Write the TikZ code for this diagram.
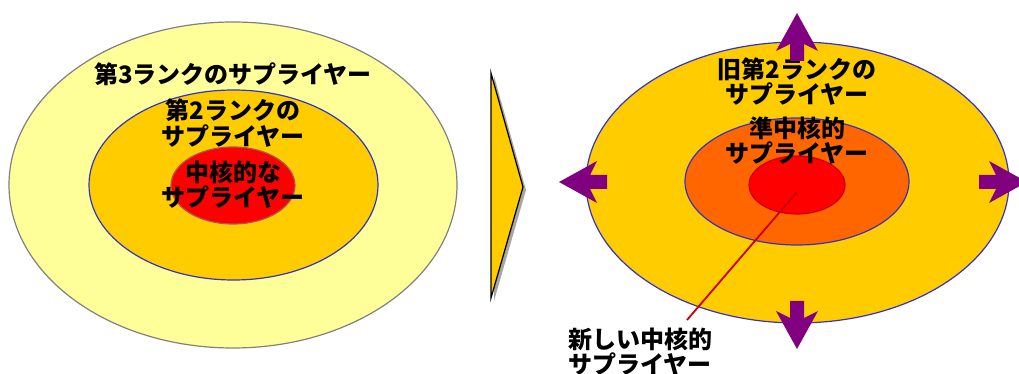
\documentclass[tikz,border=0pt]{standalone}
\usepackage{fontspec}
\usepackage{xcolor}
\usepackage{tikz}
\usetikzlibrary{shapes.geometric}
\newfontfamily\jpfont{Noto Sans CJK JP}
\definecolor{paleyel}{HTML}{FFFF99}
\definecolor{goldyel}{HTML}{FFCC00}
\definecolor{coreorg}{HTML}{FF6600}
\definecolor{corered}{HTML}{FF0000}
\definecolor{ringblue}{HTML}{3333CC}
\definecolor{pushpurple}{HTML}{800080}

\begin{document}
\begin{tikzpicture}[x=0.5pt, y=-0.5pt,
  ring/.style={ellipse, inner sep=0pt, draw=#1, line width=0.6pt},
  ring/.default=ringblue,
  lbl/.style={font=\jpfont\bfseries\fontsize{12}{#1}\selectfont, align=center, inner sep=0pt},
  lbl/.default=13,
  push/.style={fill=pushpurple},
  leader/.style={draw=red!80!black, line width=0.9pt}]
\useasboundingbox (0,0) rectangle (1019,374);
% before: three ranks
\node[ring=gray, fill=paleyel, minimum width=224pt, minimum height=163pt] (rank3) at (233,185) {};
\node[ring, fill=goldyel, minimum width=144.5pt, minimum height=95pt] (rank2) at (233.5,185) {};
\node[ring=red!30!gray, fill=corered, minimum width=62pt, minimum height=38.5pt] (core) at (233,185.5) {};
\node[lbl] (rank3txt) at (233,74) {第3ランクのサプライヤー};
\node[lbl] (rank2txt) at (233,123) {第2ランクの\\サプライヤー};
\node[lbl=12.5] (coretxt) at (233,184.5) {中核的な\\サプライヤー};
% chevron
\fill[gray!70] (494,76) -- (526,190) -- (494,301) -- cycle;
\draw[fill=goldyel, line width=0.6pt] (491,73) -- (523,187) -- (491,298) -- cycle;
% after: widened
\node[ring, fill=goldyel, minimum width=211.5pt, minimum height=140.5pt] (oldrank2) at (797.5,182.5) {};
\node[ring, fill=coreorg, minimum width=112pt, minimum height=63.5pt] (semicore) at (797,181.5) {};
\node[ring=red!80!black, fill=corered, minimum width=48pt, minimum height=29pt] (newcore) at (797,185) {};
\node[lbl=10.5] (oldrank2txt) at (797,81.5) {旧第2ランクの\\サプライヤー};
\node[lbl=10] (semicoretxt) at (797,141) {準中核的\\サプライヤー};
\node[lbl=12.5] (newcoretxt) at (640,351.5) {新しい中核的\\サプライヤー};
\coordinate (leadtop) at (797,192);
\coordinate (leadend) at (687,320);
\draw[leader] (leadtop) -- (leadend);
% outward arrows
\fill[push, shift={(797,13)}] (0,0) -- (21,38) -- (7,31) -- (7,48) -- (-7,48) -- (-7,31) -- (-21,38) -- cycle;
\fill[push, shift={(797,349)}, rotate=180] (0,0) -- (21,38) -- (7,31) -- (7,48) -- (-7,48) -- (-7,31) -- (-21,38) -- cycle;
\fill[push, shift={(559,182)}, rotate=90] (0,0) -- (21,38) -- (7,31) -- (7,48) -- (-7,48) -- (-7,31) -- (-21,38) -- cycle;
\fill[push, shift={(1027,182)}, rotate=-90] (0,0) -- (21,38) -- (7,31) -- (7,48) -- (-7,48) -- (-7,31) -- (-21,38) -- cycle;
\end{tikzpicture}
\end{document}
